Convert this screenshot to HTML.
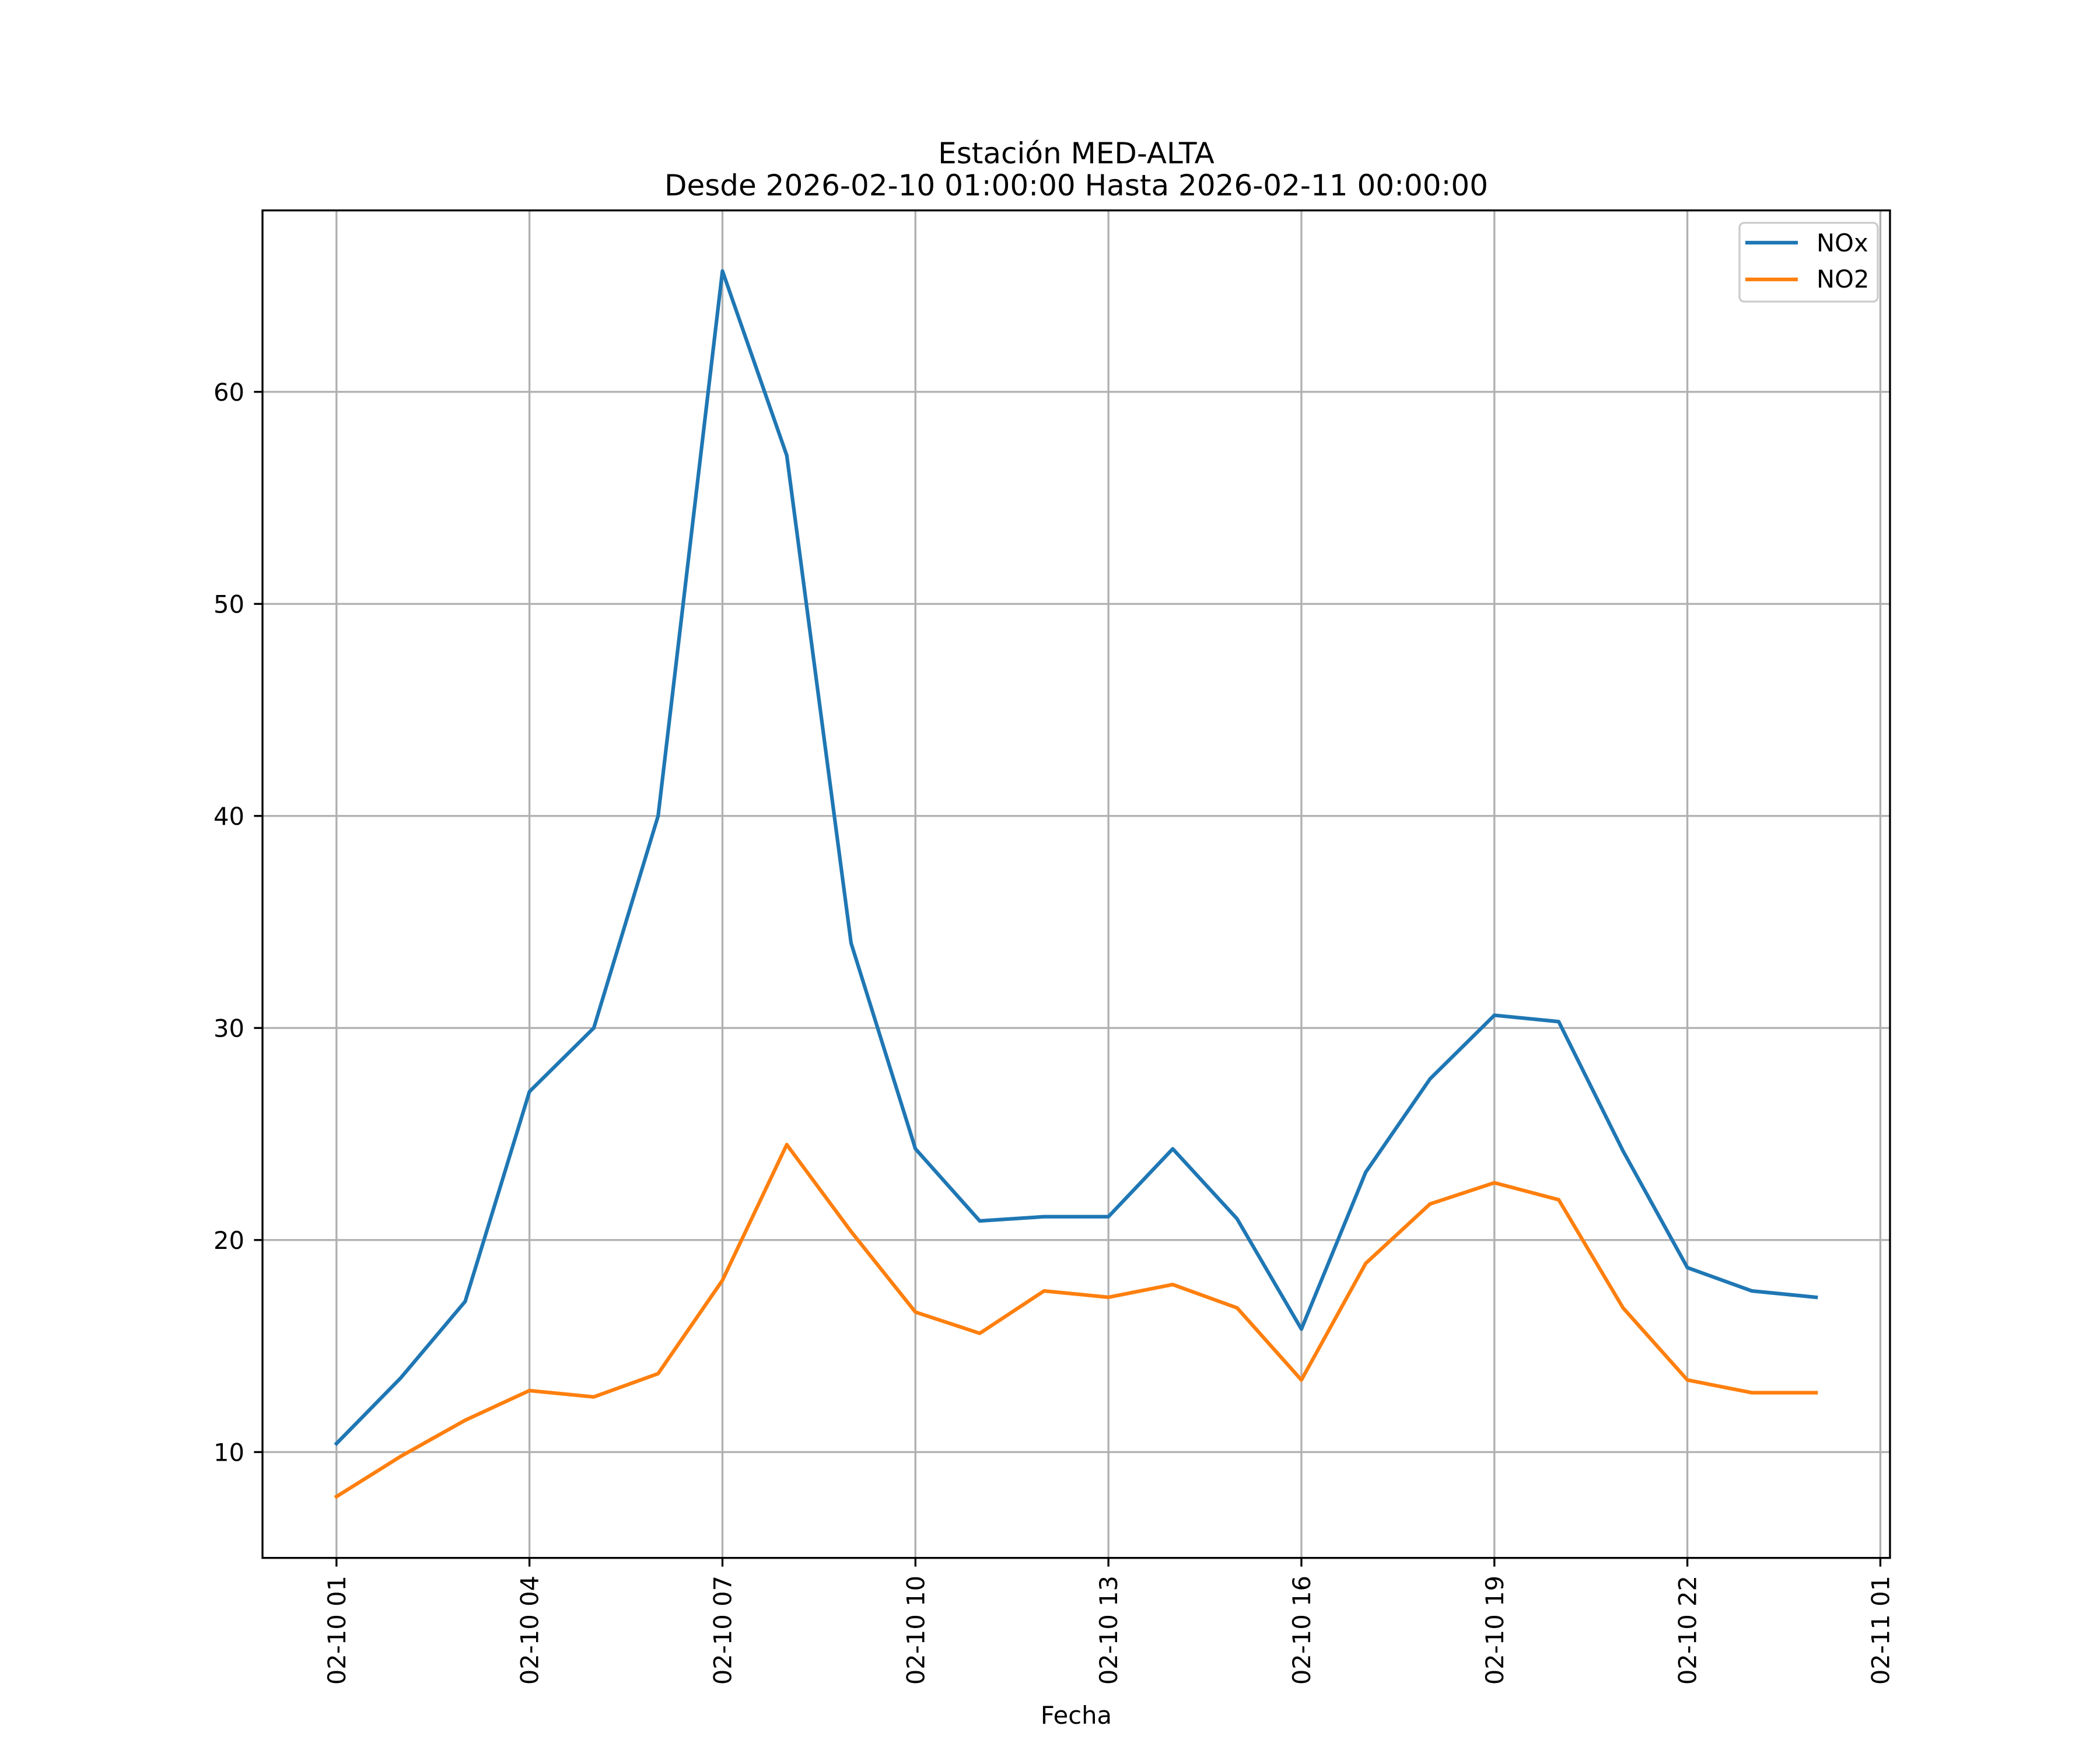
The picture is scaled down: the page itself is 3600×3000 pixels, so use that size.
<!DOCTYPE html>
<html><head><meta charset="utf-8"><style>html,body{margin:0;padding:0;background:#fff}svg{display:block}text{font-family:"DejaVu Sans","Liberation Sans",sans-serif;fill:#000}</style></head>
<body>
<svg id="chart" width="3600" height="3000" viewBox="0 0 3600 3000" xmlns="http://www.w3.org/2000/svg">
<rect width="3600" height="3000" fill="#fff"/>
<text x="1845" y="280" font-size="50" text-anchor="middle">Estación MED-ALTA</text>
<text x="1845" y="335" font-size="50" text-anchor="middle">Desde 2026-02-10 01:00:00 Hasta 2026-02-11 00:00:00</text>
<g id="grid"></g>
<g id="series"></g>
<rect x="450" y="360.7" width="2790" height="2310" fill="none" stroke="#000" stroke-width="3.33"/>
<g id="axes"></g>
<text x="1845" y="2955" font-size="41.67" text-anchor="middle">Fecha</text>
<g>
<rect x="2982" y="382" width="237" height="135" fill="#fff" fill-opacity="0.8" stroke="#ccc" stroke-width="3.33" rx="8"/>
<line x1="2992" y1="416" x2="3082" y2="416" stroke="#1f77b4" stroke-width="6.25"/>
<text x="3114" y="431" font-size="41.67">NOx</text>
<line x1="2992" y1="479" x2="3082" y2="479" stroke="#ff7f0e" stroke-width="6.25"/>
<text x="3114" y="493" font-size="41.67">NO2</text>
</g>
</svg>
<script>
const hours = [1,2,3,4,5,6,7,8,9,10,11,12,13,14,15,16,17,18,19,20,21,22,23,24];
const noxValues = [10.4,13.5,17.1,27,30,40,65.7,57,34,24.3,20.9,21.1,21.1,24.3,21,15.8,23.2,27.6,30.6,30.3,24.2,18.7,17.6,17.3];
const no2Values = [7.9,9.8,11.5,12.9,12.6,13.7,18.1,24.5,20.4,16.6,15.6,17.6,17.3,17.9,16.8,13.4,18.9,21.7,22.7,21.9,16.8,13.4,12.8,12.8];
const xTickHours = [1,4,7,10,13,16,19,22,25];
const xTickLabels = ["02-10 01","02-10 04","02-10 07","02-10 10","02-10 13","02-10 16","02-10 19","02-10 22","02-11 01"];
const yTicks = [10,20,30,40,50,60];

const L=450,R=3240,T=360.7,B=2671;
const xmin=1-1.15, xmax=24+1.15;
const ymin=5, ymax=5+(B-T)/36.35;
const xs=h=>L+(h-xmin)/(xmax-xmin)*(R-L);
const ys=v=>B-(v-ymin)/(ymax-ymin)*(B-T);
const NS="http://www.w3.org/2000/svg";
function mk(tag,parent,attrs){const e=document.createElementNS(NS,tag);for(const k in attrs)e.setAttribute(k,attrs[k]);parent.appendChild(e);return e;}
const grid=document.getElementById('grid'),axes=document.getElementById('axes'),series=document.getElementById('series');
xTickHours.forEach((h,i)=>{
  const x=xs(h);
  const g=mk('line',grid,{x1:x,y1:T,x2:x,y2:B,stroke:'#b0b0b0','stroke-width':3.33});
  
  
  const t=mk('line',axes,{x1:x,y1:B,x2:x,y2:B+14.6,stroke:'#000','stroke-width':3.33});
  
  
  const tx=mk('text',axes,{x:0,y:0,'font-size':41.67,'text-anchor':'end',transform:`translate(${x+15},${B+30}) rotate(-90)`});
  tx.textContent=xTickLabels[i];
  
  
});
yTicks.forEach(v=>{
  const y=ys(v);
  const g=mk('line',grid,{x1:L,y1:y,x2:R,y2:y,stroke:'#b0b0b0','stroke-width':3.33});
  
  
  const t=mk('line',axes,{x1:L-14.6,y1:y,x2:L,y2:y,stroke:'#000','stroke-width':3.33});
  
  
  const tx=mk('text',axes,{x:L-31,y:y+15,'font-size':41.67,'text-anchor':'end'});
  tx.textContent=v;
  
  
});
function line(vals,color,name){
  const p=mk('polyline',series,{points:vals.map((v,i)=>xs(hours[i])+','+ys(v)).join(' '),fill:'none',stroke:color,'stroke-width':6.25,'stroke-linejoin':'round','stroke-linecap':'square'});
  
  
}
line(noxValues,'#1f77b4','nox-line');
line(no2Values,'#ff7f0e','no2-line');
</script>
</body></html>
